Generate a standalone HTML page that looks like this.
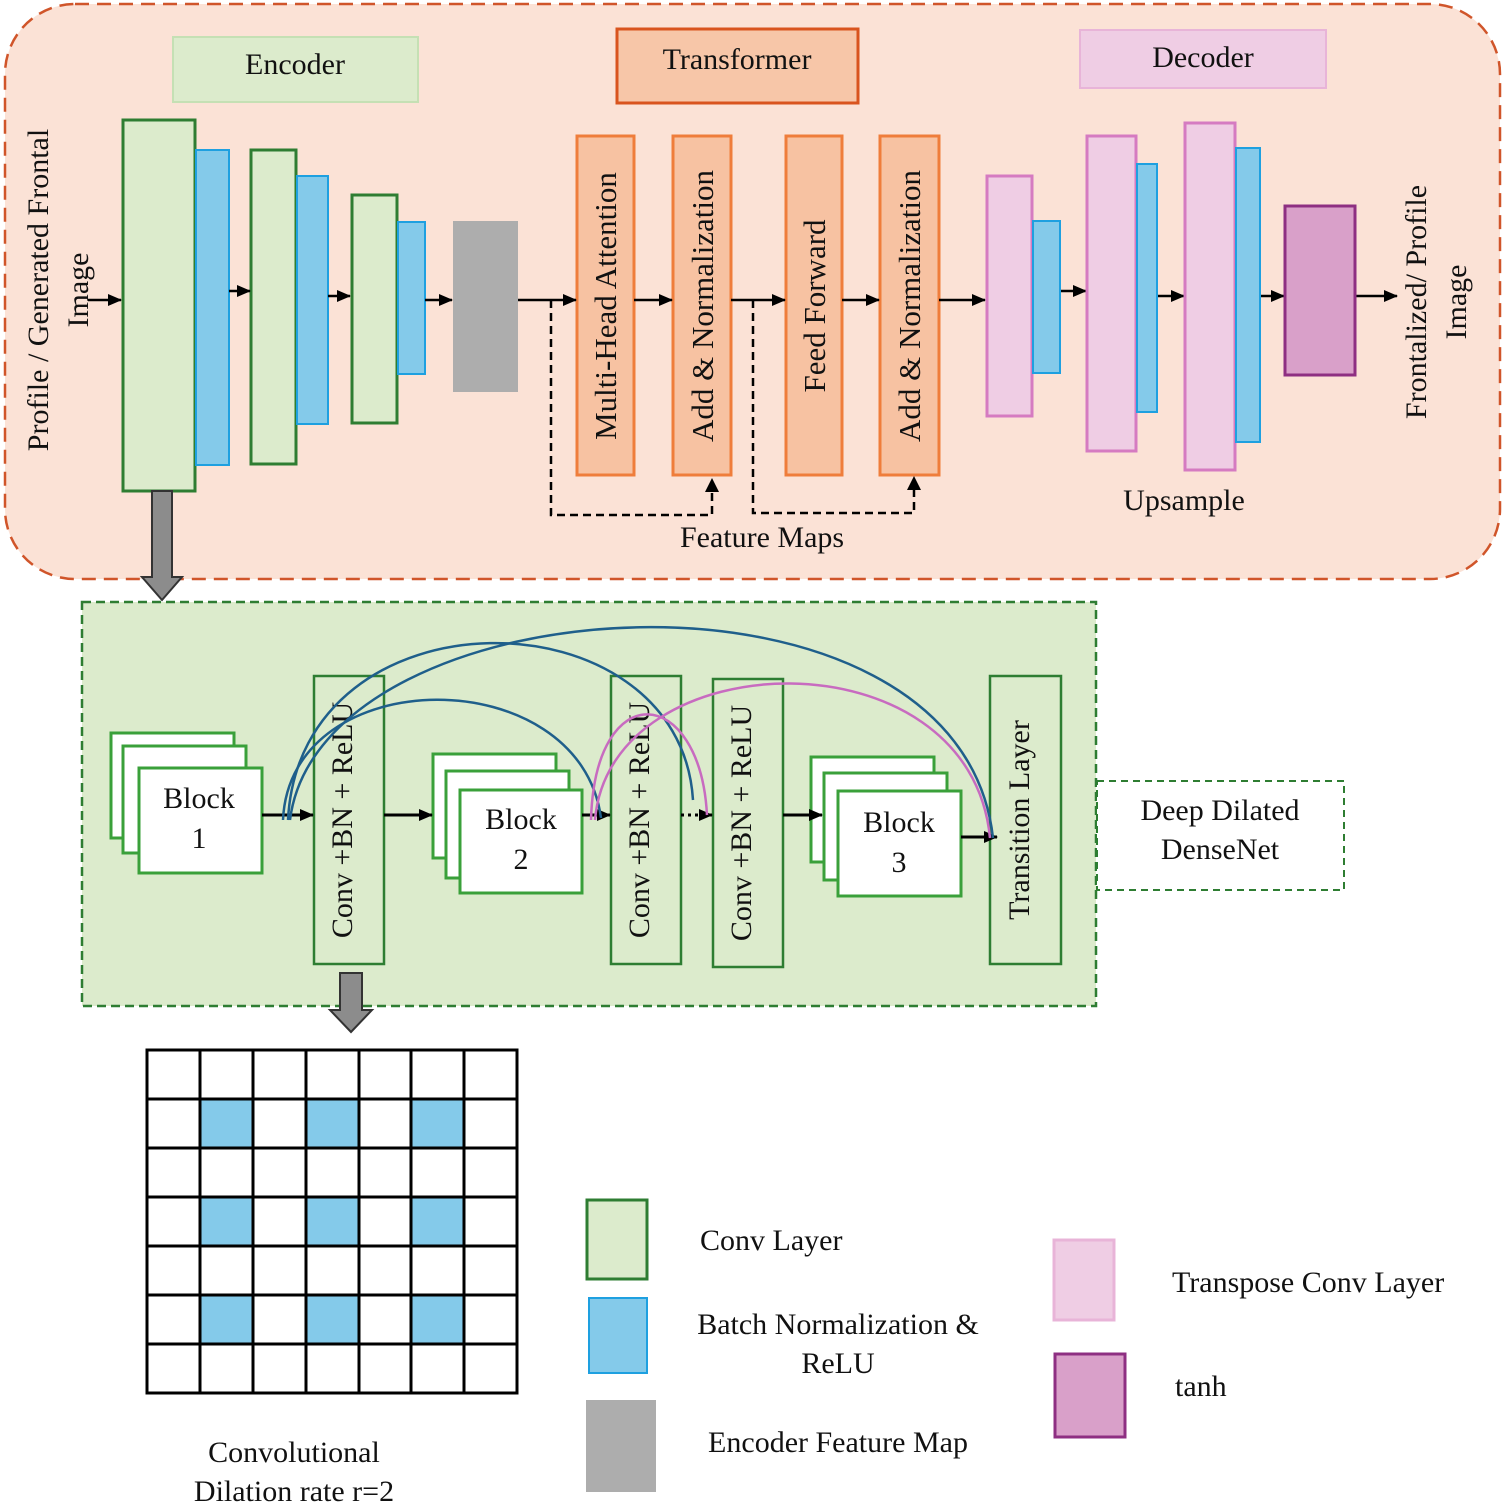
<!DOCTYPE html>
<html><head><meta charset="utf-8"><style>html,body{margin:0;padding:0;background:#fff}svg{display:block}text{font-family:"Liberation Serif",serif;fill:#111}</style></head><body>
<svg width="1506" height="1507" viewBox="0 0 1506 1507" xmlns="http://www.w3.org/2000/svg">
<defs>
<marker id="b" markerWidth="14" markerHeight="14" refX="13" refY="7" orient="auto" markerUnits="userSpaceOnUse"><path d="M0,1 L14,7 L0,13 z" fill="#000"/></marker>
</defs>
<rect x="5" y="4" width="1495" height="575" rx="70" fill="#fbe2d6" stroke="#d0552a" stroke-width="2.5" stroke-dasharray="14,8"/>
<rect x="173" y="37" width="245" height="65" fill="#dcebcc" stroke="#c5e0b4" stroke-width="2"/>
<text x="295" y="74" font-size="30" text-anchor="middle">Encoder</text>
<rect x="617" y="29" width="241" height="74" fill="#f7c6a8" stroke="#d9541e" stroke-width="3"/>
<text x="737" y="69" font-size="30" text-anchor="middle">Transformer</text>
<rect x="1080" y="30" width="246" height="58" fill="#efcde4" stroke="#e8b4d8" stroke-width="2"/>
<text x="1203" y="67" font-size="30" text-anchor="middle">Decoder</text>
<g transform="translate(48,290) rotate(-90)"><text font-size="30" text-anchor="middle">Profile / Generated Frontal</text></g>
<g transform="translate(88,290) rotate(-90)"><text font-size="30" text-anchor="middle">Image</text></g>
<g stroke-width="3">
<rect x="123" y="120" width="72" height="371" fill="#dcebcc" stroke="#2e7d32"/>
<rect x="196" y="150" width="33" height="315" fill="#84caea" stroke="#1ea0e0" stroke-width="2"/>
<rect x="251" y="150" width="45" height="314" fill="#dcebcc" stroke="#2e7d32"/>
<rect x="297" y="176" width="31" height="248" fill="#84caea" stroke="#1ea0e0" stroke-width="2"/>
<rect x="352" y="195" width="45" height="228" fill="#dcebcc" stroke="#2e7d32"/>
<rect x="398" y="222" width="27" height="152" fill="#84caea" stroke="#1ea0e0" stroke-width="2"/>
</g>
<rect x="453" y="221" width="65" height="171" fill="#adadad"/>
<g fill="#f7c2a2" stroke="#ef7d3b" stroke-width="3">
<rect x="577" y="136" width="57" height="339"/><rect x="673" y="136" width="58" height="339"/>
<rect x="786" y="136" width="56" height="339"/><rect x="880" y="136" width="59" height="339"/>
</g>
<g font-size="31" text-anchor="middle">
<text transform="translate(616,306) rotate(-90)">Multi-Head Attention</text>
<text transform="translate(713,306) rotate(-90)">Add &amp; Normalization</text>
<text transform="translate(825,306) rotate(-90)">Feed Forward</text>
<text transform="translate(920,306) rotate(-90)">Add &amp; Normalization</text>
</g>
<g stroke="#000" stroke-width="2.5" fill="none" marker-end="url(#b)">
<line x1="88" y1="300" x2="121" y2="300"/>
<line x1="229" y1="291" x2="250" y2="291"/>
<line x1="328" y1="296" x2="350" y2="296"/>
<line x1="425" y1="300" x2="452" y2="300"/>
<line x1="518" y1="300" x2="576" y2="300"/>
<line x1="634" y1="300" x2="672" y2="300"/>
<line x1="731" y1="300" x2="785" y2="300"/>
<line x1="842" y1="300" x2="879" y2="300"/>
<line x1="939" y1="300" x2="985" y2="300"/>
<line x1="1060" y1="291" x2="1086" y2="291"/>
<line x1="1157" y1="296" x2="1184" y2="296"/>
<line x1="1260" y1="296" x2="1284" y2="296"/>
<line x1="1355" y1="296" x2="1397" y2="296"/>
</g>
<g stroke="#000" stroke-width="2.5" fill="none" stroke-dasharray="8,5">
<polyline points="551,300 551,515 712,515 712,490"/>
<polyline points="753,300 753,513 914,513 914,488"/>
</g>
<path d="M705,492 L712,478 L719,492 z M907,490 L914,476 L921,490 z"/>
<text x="762" y="547" font-size="30" text-anchor="middle">Feature Maps</text>
<g stroke-width="3">
<rect x="987" y="176" width="45" height="240" fill="#efcde4" stroke="#d57bc1"/>
<rect x="1033" y="221" width="27" height="152" fill="#84caea" stroke="#1ea0e0" stroke-width="2"/>
<rect x="1087" y="136" width="49" height="315" fill="#efcde4" stroke="#d57bc1"/>
<rect x="1137" y="164" width="20" height="248" fill="#84caea" stroke="#1ea0e0" stroke-width="2"/>
<rect x="1185" y="123" width="50" height="347" fill="#efcde4" stroke="#d57bc1"/>
<rect x="1236" y="148" width="24" height="294" fill="#84caea" stroke="#1ea0e0" stroke-width="2"/>
<rect x="1285" y="206" width="70" height="169" fill="#d9a0c9" stroke="#8e2f82"/>
</g>
<text x="1184" y="510" font-size="30" text-anchor="middle">Upsample</text>
<text transform="translate(1426,302) rotate(-90)" font-size="30" text-anchor="middle">Frontalized/ Profile</text>
<text transform="translate(1466,302) rotate(-90)" font-size="30" text-anchor="middle">Image</text>
<path d="M152,491 L172,491 L172,577 L182,577 L162,600 L142,577 L152,577 z" fill="#8c8c8c" stroke="#333" stroke-width="2"/>
<rect x="82" y="602" width="1014" height="404" fill="#dcebcc" stroke="#2e7d32" stroke-width="2.5" stroke-dasharray="9,5"/>
<rect x="1097" y="781" width="247" height="109" fill="#fff" stroke="#2e7d32" stroke-width="2" stroke-dasharray="7,5"/>
<text x="1220" y="820" font-size="30" text-anchor="middle">Deep Dilated</text>
<text x="1220" y="859" font-size="30" text-anchor="middle">DenseNet</text>
<g fill="#dcebcc" stroke="#2e7d32" stroke-width="2.5">
<rect x="314" y="676" width="70" height="288"/><rect x="611" y="676" width="70" height="288"/>
<rect x="713" y="679" width="70" height="288"/><rect x="990" y="676" width="71" height="288"/>
</g>
<g font-size="30" text-anchor="middle">
<text transform="translate(352,820) rotate(-90)">Conv +BN + ReLU</text>
<text transform="translate(649,820) rotate(-90)">Conv +BN + ReLU</text>
<text transform="translate(751,823) rotate(-90)">Conv +BN + ReLU</text>
<text transform="translate(1029,820) rotate(-90)">Transition Layer</text>
</g>
<g fill="#fff" stroke="#3aa03a" stroke-width="3">
<rect x="111" y="733" width="123" height="105"/><rect x="123" y="746" width="123" height="107"/><rect x="139" y="768" width="123" height="105"/>
<rect x="433" y="754" width="123" height="104"/><rect x="446" y="771" width="123" height="107"/><rect x="460" y="790" width="122" height="103"/>
<rect x="811" y="757" width="123" height="105"/><rect x="824" y="773" width="123" height="107"/><rect x="838" y="791" width="123" height="105"/>
</g>
<g font-size="30" text-anchor="middle">
<text x="199" y="808">Block</text><text x="199" y="848">1</text>
<text x="521" y="829">Block</text><text x="521" y="869">2</text>
<text x="899" y="832">Block</text><text x="899" y="872">3</text>
</g>
<g stroke="#000" stroke-width="3" fill="none" marker-end="url(#b)">
<line x1="262" y1="815" x2="313" y2="815"/>
<line x1="384" y1="815" x2="432" y2="815"/>
<line x1="582" y1="815" x2="610" y2="815"/>
<line x1="681" y1="815" x2="712" y2="815" stroke-dasharray="3,4"/>
<line x1="783" y1="815" x2="822" y2="815"/>
<line x1="961" y1="837" x2="997" y2="837"/>
</g>
<g fill="none" stroke="#1f5f8b" stroke-width="2.5">
<path d="M283,820 C290,660 580,660 601,818"/>
<path d="M288,820 C300,585 680,590 693,800"/>
<path d="M290,820 C320,580 960,540 993,838"/>
</g>
<g fill="none" stroke="#c86bc0" stroke-width="2.5">
<path d="M591,820 C595,675 700,685 707,815"/>
<path d="M595,820 C610,640 970,630 990,838"/>
</g>
<path d="M340,973 L362,973 L362,1010 L372,1010 L351,1032 L330,1010 L340,1010 z" fill="#8c8c8c" stroke="#333" stroke-width="2"/>
<g fill="#84caea">
<rect x="201" y="1099" width="52" height="48"/><rect x="306" y="1099" width="52" height="48"/><rect x="411" y="1099" width="52" height="48"/>
<rect x="201" y="1197" width="52" height="48"/><rect x="306" y="1197" width="52" height="48"/><rect x="411" y="1197" width="52" height="48"/>
<rect x="201" y="1295" width="52" height="48"/><rect x="306" y="1295" width="52" height="48"/><rect x="411" y="1295" width="52" height="48"/>
</g>
<g stroke="#000" stroke-width="3" fill="none">
<rect x="147" y="1050" width="370" height="343"/>
<path d="M200,1050V1393M253,1050V1393M306,1050V1393M359,1050V1393M411,1050V1393M464,1050V1393"/>
<path d="M147,1099H517M147,1148H517M147,1197H517M147,1246H517M147,1295H517M147,1344H517"/>
</g>
<text x="294" y="1462" font-size="30" text-anchor="middle">Convolutional</text>
<text x="294" y="1501" font-size="30" text-anchor="middle">Dilation rate r=2</text>
<rect x="587" y="1200" width="60" height="79" fill="#dcebcc" stroke="#2e7d32" stroke-width="3"/>
<rect x="589" y="1298" width="58" height="75" fill="#84caea" stroke="#1ea0e0" stroke-width="2"/>
<rect x="586" y="1400" width="70" height="92" fill="#adadad"/>
<rect x="1054" y="1240" width="60" height="80" fill="#efcde4" stroke="#e8b4d8" stroke-width="3"/>
<rect x="1055" y="1354" width="70" height="83" fill="#d9a0c9" stroke="#8e2f82" stroke-width="3"/>
<g font-size="30">
<text x="700" y="1250">Conv Layer</text>
<text x="838" y="1334" text-anchor="middle">Batch Normalization &amp;</text>
<text x="838" y="1373" text-anchor="middle">ReLU</text>
<text x="838" y="1452" text-anchor="middle">Encoder Feature Map</text>
<text x="1172" y="1292">Transpose Conv Layer</text>
<text x="1175" y="1396">tanh</text>
</g>
</svg>
</body></html>
